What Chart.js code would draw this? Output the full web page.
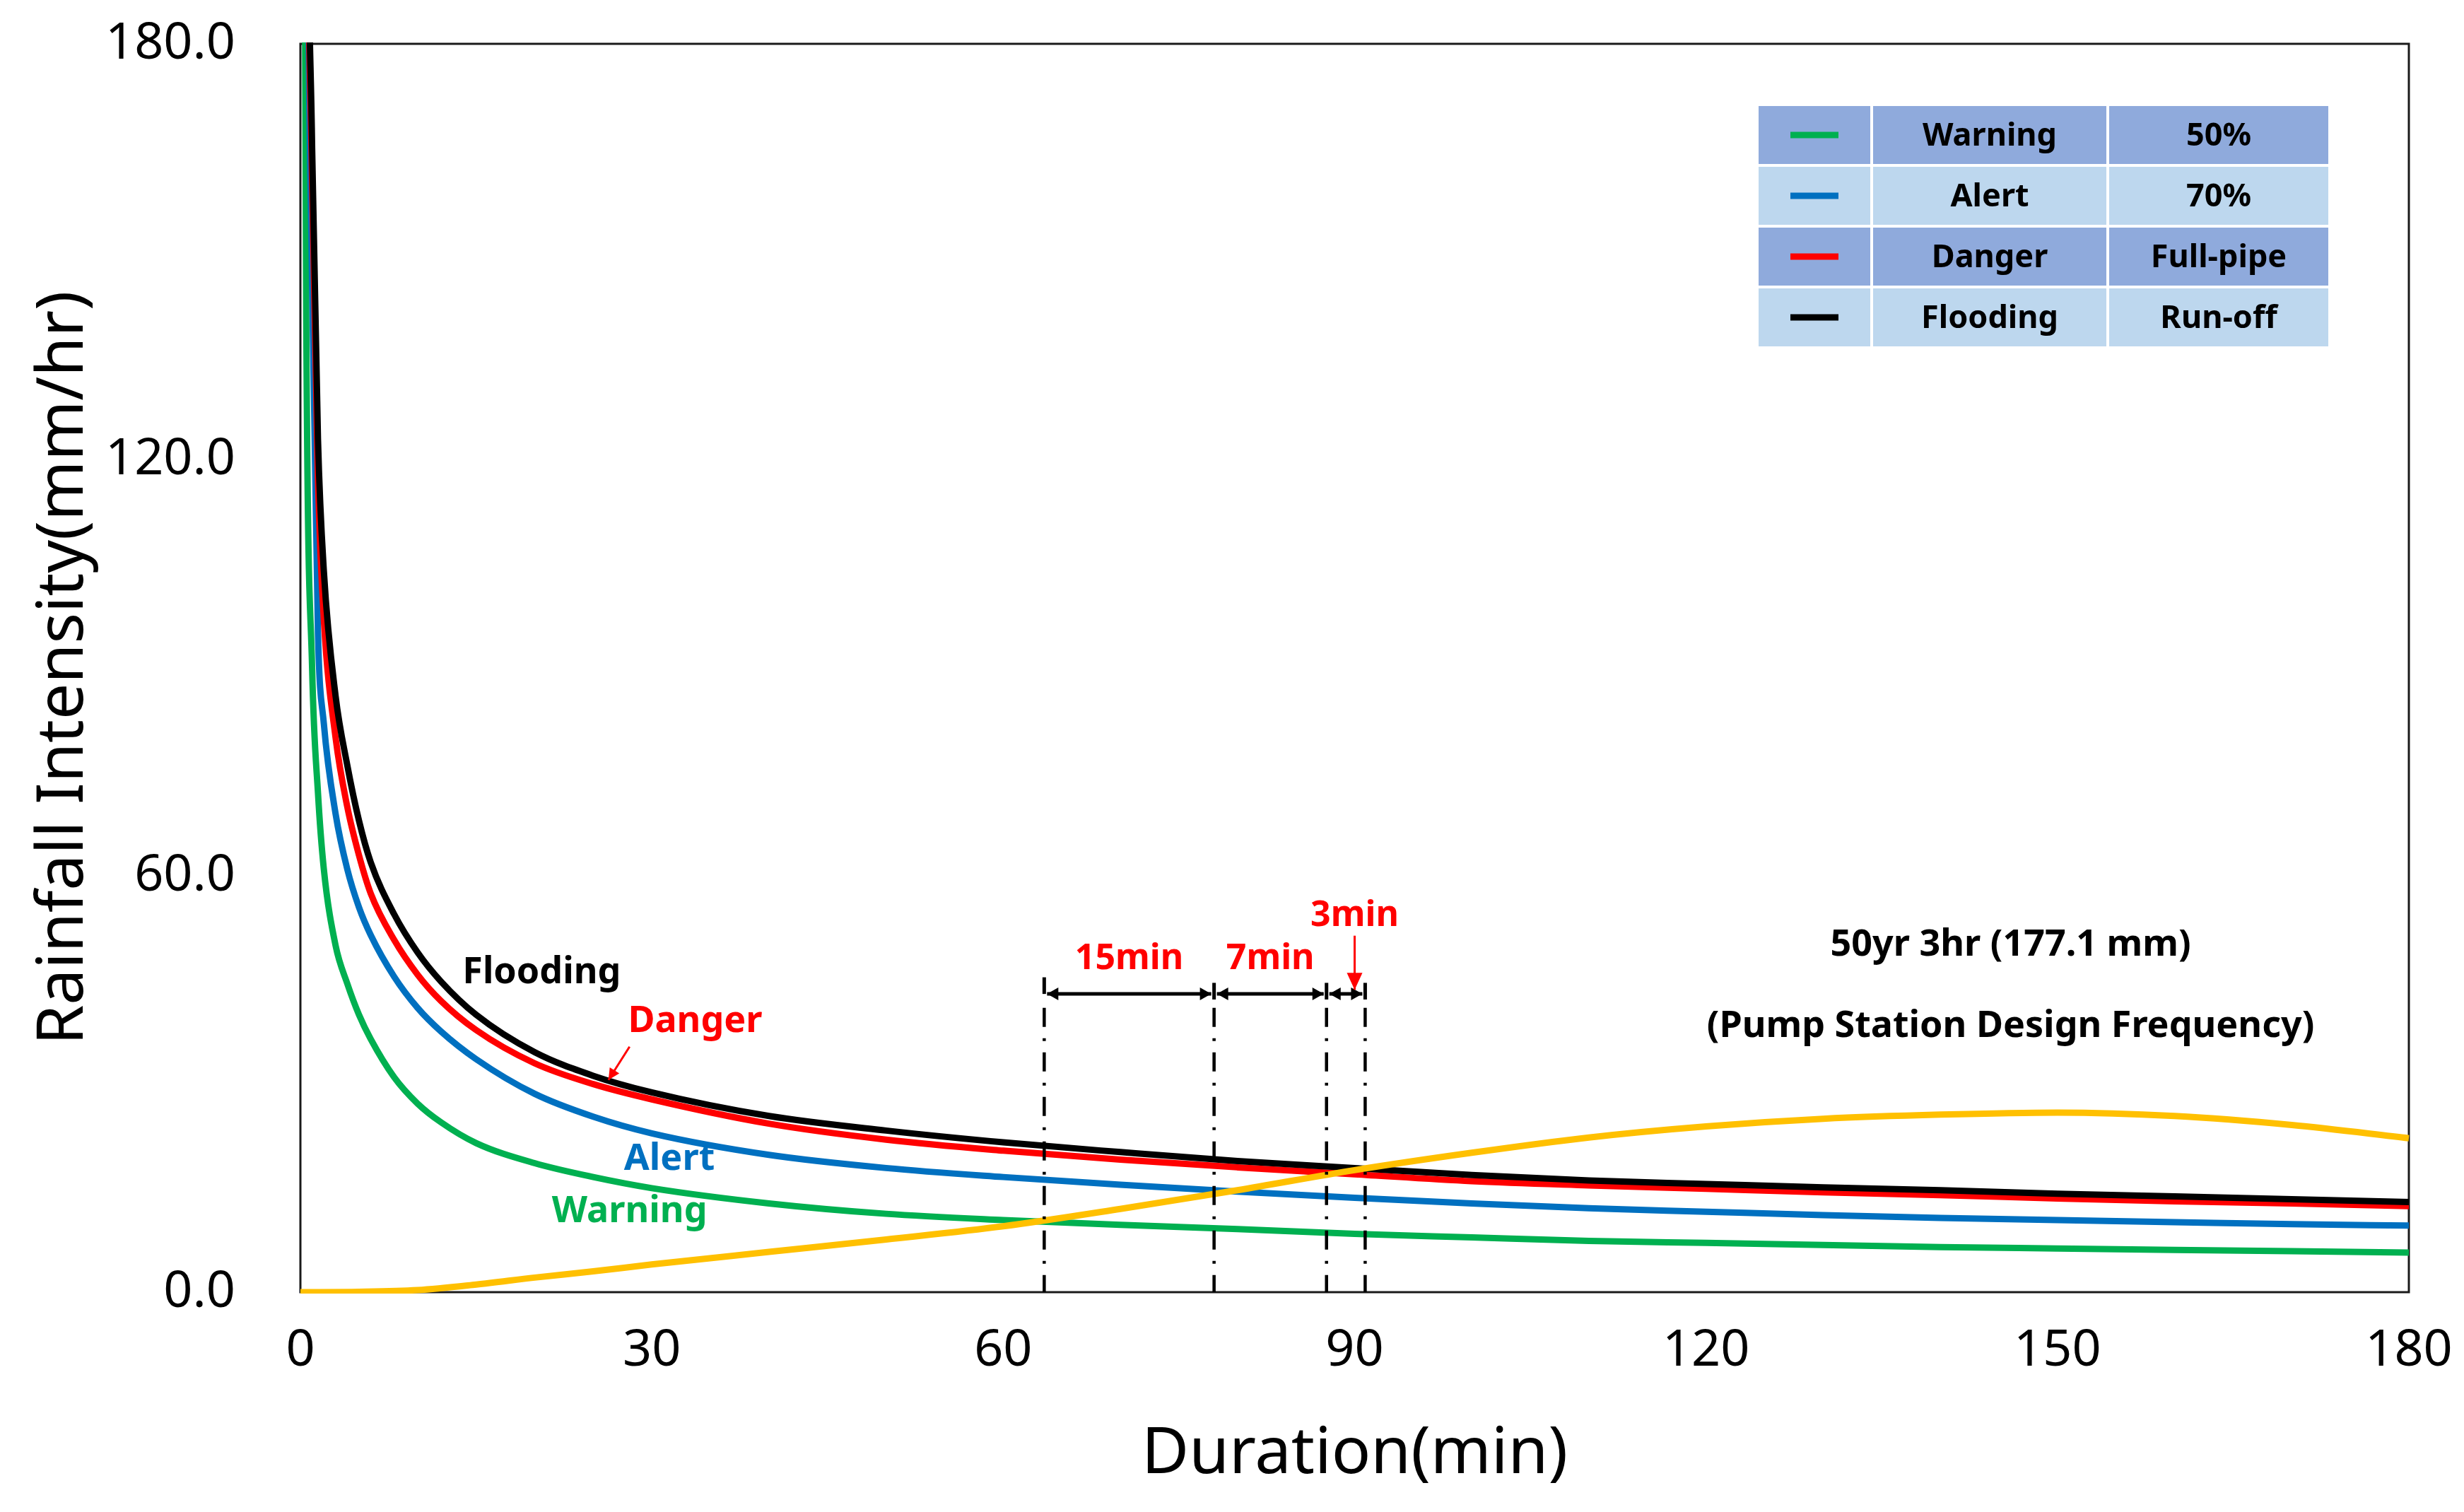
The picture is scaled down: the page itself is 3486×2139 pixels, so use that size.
<!DOCTYPE html>
<html>
<head>
<meta charset="utf-8">
<title>Rainfall intensity vs duration</title>
<script src="https://cdn.jsdelivr.net/npm/chart.js@4.4.1/dist/chart.umd.min.js"></script>
<style>
  html, body { margin: 0; padding: 0; background: #fff; }
  #wrap { width: 3486px; height: 2139px; }
</style>
</head>
<body>
<div id="wrap"><canvas id="idfChart" width="3486" height="2139"></canvas></div>
<script>
// durations (min) at which the threshold curves were read
const idfDurations = [0.25, 0.5, 1, 1.5, 2, 3, 4, 5, 6, 8, 10, 12, 15, 20, 25, 30, 40, 50, 60, 70, 80, 90, 100, 110, 120, 130, 140, 150, 160, 170, 180];

// rainfall intensity (mm/hr) per threshold
const flooding = [400, 240, 165, 123, 104, 86, 76, 68, 62, 54.5, 49, 44.8, 40, 34.6, 31.2, 28.8, 25.4, 23.3, 21.6, 20.2, 18.9, 17.9, 16.9, 16.1, 15.6, 15.1, 14.7, 14.2, 13.8, 13.4, 13.0];
const danger   = [390, 235, 160, 117, 97, 80, 70, 63, 57.5, 50.8, 45.8, 42.0, 37.8, 33.0, 30.0, 27.8, 24.3, 22, 20.4, 19.1, 18.0, 17.0, 16.0, 15.4, 14.9, 14.4, 14.0, 13.5, 13.1, 12.8, 12.4];
const alert    = [380, 230, 145, 95, 82, 69, 61, 55.5, 51.5, 45.5, 41, 37.6, 33.6, 28.6, 25.3, 22.9, 19.8, 17.9, 16.6, 15.5, 14.5, 13.6, 12.8, 12.1, 11.6, 11.1, 10.7, 10.4, 10.1, 9.8, 9.6];
const warning  = [250, 140, 90, 72, 61, 50, 44.5, 40, 36.5, 31, 27.2, 24.5, 21.5, 18.6, 16.6, 15, 12.8, 11.3, 10.4, 9.7, 9.1, 8.4, 7.9, 7.4, 7.1, 6.8, 6.5, 6.3, 6.1, 5.9, 5.7];

// 50yr 3hr design storm (177.1 mm)
const stormDurations = [0, 5, 10, 15, 20, 25, 30, 40, 50, 60, 70, 80, 90, 100, 110, 120, 130, 140, 150, 160, 170, 180];
const stormIntensity = [0, 0.05, 0.3, 1.1, 2.1, 3.0, 4.0, 5.8, 7.6, 9.5, 12.0, 14.7, 17.6, 20.1, 22.3, 23.9, 25.0, 25.6, 25.9, 25.4, 24.1, 22.2];

// crossing points of the storm with each threshold curve
const crossDurations = [63.5, 78.0, 87.6, 90.9];
const spanLabels = ['15min', '7min', '3min'];

const seriesNames = ['Warning', 'Alert', 'Danger', 'Flooding'];
const thresholdLabels = ['50%', '70%', 'Full-pipe', 'Run-off'];
const seriesColors = ['#00b050', '#0070c0', '#ff0000', '#000000'];
const stormColor = '#ffc000';

const xTicks = [0, 30, 60, 90, 120, 150, 180];
const yTicks = [0, 60, 120, 180];

const FONT = '"Noto Sans", "Open Sans", sans-serif';

function toPoints(xs, ys) {
  return xs.map((x, i) => ({ x: x, y: ys[i] }));
}

function arrowHead(ctx, x, y, angle, len, half) {
  const c = Math.cos(angle), s = Math.sin(angle);
  ctx.beginPath();
  ctx.moveTo(x, y);
  ctx.lineTo(x - len * c + half * s, y - len * s - half * c);
  ctx.lineTo(x - len * c - half * s, y - len * s + half * c);
  ctx.closePath();
  ctx.fill();
}

function arrow(ctx, x1, y1, x2, y2, both, len, half) {
  ctx.beginPath();
  ctx.moveTo(x1, y1);
  ctx.lineTo(x2, y2);
  ctx.stroke();
  const ang = Math.atan2(y2 - y1, x2 - x1);
  arrowHead(ctx, x2, y2, ang, len, half);
  if (both) arrowHead(ctx, x1, y1, ang + Math.PI, len, half);
}

const annotations = {
  id: 'idfAnnotations',
  beforeDatasetsDraw(chart) {
    const { ctx, chartArea: a } = chart;
    ctx.save();
    ctx.strokeStyle = '#1a1a1a';
    ctx.lineWidth = 3;
    ctx.strokeRect(a.left, a.top, a.right - a.left, a.bottom - a.top);
    ctx.restore();
  },
  afterDatasetsDraw(chart) {
    const { ctx } = chart;
    const px = v => chart.scales.x.getPixelForValue(v);
    const py = v => chart.scales.y.getPixelForValue(v);
    ctx.save();

    // dash-dot drop lines at the crossings
    ctx.strokeStyle = '#000';
    ctx.lineWidth = 4.5;
    ctx.setLineDash([27, 16, 4, 16]);
    crossDurations.forEach(d => {
      ctx.beginPath();
      ctx.moveTo(px(d), py(41));
      ctx.lineTo(px(d), py(0));
      ctx.stroke();
    });
    ctx.setLineDash([]);

    // span ticks and double arrows
    ctx.lineWidth = 5;
    ctx.fillStyle = '#000';
    crossDurations.forEach((d, i) => {
      ctx.beginPath();
      ctx.moveTo(px(d), py(i === 0 ? 45.4 : 44.6));
      ctx.lineTo(px(d), py(i === 0 ? 43.0 : 42.2));
      ctx.stroke();
    });
    for (let i = 0; i < crossDurations.length - 1; i++) {
      arrow(ctx, px(crossDurations[i]) + 4, py(43), px(crossDurations[i + 1]) - 4, py(43), true, 16, 9);
    }

    // span labels
    ctx.fillStyle = '#ff0000';
    ctx.font = 'bold 50px ' + FONT;
    ctx.textAlign = 'center';
    ctx.textBaseline = 'middle';
    const spanMid = [(crossDurations[0] + crossDurations[1]) / 2, (crossDurations[1] + crossDurations[2]) / 2];
    ctx.fillText(spanLabels[0], px(spanMid[0]), py(48));
    ctx.fillText(spanLabels[1], px(spanMid[1]), py(48));
    ctx.fillText(spanLabels[2], px(90.0), py(54.3));
    ctx.strokeStyle = '#ff0000';
    ctx.lineWidth = 3;
    arrow(ctx, px(90.0), py(51.4), px(90.0), py(43.6), false, 24, 11);

    // curve labels
    ctx.font = 'bold 52px ' + FONT;
    const labelPos = [[28.1, 11.6], [31.5, 19.1], [33.7, 39.0], [20.6, 46.1]];
    seriesNames.forEach((name, i) => {
      ctx.fillStyle = seriesColors[i];
      ctx.fillText(name, px(labelPos[i][0]), py(labelPos[i][1]));
    });
    ctx.strokeStyle = '#ff0000';
    ctx.fillStyle = '#ff0000';
    ctx.lineWidth = 3;
    arrow(ctx, px(28.1), py(35.4), px(26.3), py(30.6), false, 16, 8);

    // storm caption
    ctx.fillStyle = '#000';
    ctx.fillText('50yr 3hr (177.1 mm)', px(146), py(50.0));
    ctx.fillText('(Pump Station Design Frequency)', px(146), py(38.3));
    ctx.restore();
  },
  afterDraw(chart) {
    const { ctx, chartArea: a } = chart;
    const left = a.right - 922, top = a.top + 86;
    const colW = [162, 334, 314], rowH = 86, gap = 4;
    const fills = ['#8faadc', '#bdd7ee'];
    ctx.save();
    ctx.font = 'bold 45px ' + FONT;
    ctx.textAlign = 'center';
    ctx.textBaseline = 'middle';
    seriesNames.forEach((name, r) => {
      const y = top + r * rowH;
      let x = left;
      colW.forEach((w, c) => {
        ctx.fillStyle = fills[r % 2];
        ctx.fillRect(x + gap / 2, y + gap / 2, w - gap, rowH - gap);
        const cx = x + w / 2, cy = y + rowH / 2;
        if (c === 0) {
          ctx.fillStyle = seriesColors[r];
          ctx.fillRect(cx - 34, cy - 4.5, 68, 9);
        } else {
          ctx.fillStyle = '#000';
          ctx.fillText(c === 1 ? name : thresholdLabels[r], cx, cy + 2);
        }
        x += w;
      });
    });
    ctx.restore();
  }
};

const curveStyle = {
  borderWidth: 9,
  pointRadius: 0,
  fill: false,
  cubicInterpolationMode: 'monotone',
  clip: 2
};

new Chart(document.getElementById('idfChart'), {
  type: 'line',
  data: {
    datasets: [
      Object.assign({ label: 'Design storm', data: toPoints(stormDurations, stormIntensity), borderColor: stormColor }, curveStyle),
      Object.assign({ label: 'Flooding', data: toPoints(idfDurations, flooding), borderColor: seriesColors[3] }, curveStyle),
      Object.assign({ label: 'Danger', data: toPoints(idfDurations, danger), borderColor: seriesColors[2] }, curveStyle),
      Object.assign({ label: 'Alert', data: toPoints(idfDurations, alert), borderColor: seriesColors[1] }, curveStyle),
      Object.assign({ label: 'Warning', data: toPoints(idfDurations, warning), borderColor: seriesColors[0] }, curveStyle)
    ]
  },
  options: {
    responsive: false,
    devicePixelRatio: 1,
    animation: false,
    layout: { padding: { top: 62, right: 78, left: 0, bottom: 0 } },
    plugins: { legend: { display: false }, tooltip: { enabled: false } },
    scales: {
      x: {
        type: 'linear',
        min: 0,
        max: 180,
        afterFit(scale) {
          scale.height = 311;
          scale.paddingLeft = 0;
          scale.paddingRight = 0;
        },
        afterBuildTicks(scale) { scale.ticks = xTicks.map(v => ({ value: v })); },
        grid: { display: false, drawTicks: false },
        border: { display: false },
        ticks: { color: '#000', padding: 40, font: { family: FONT, size: 72 } },
        title: {
          display: true,
          text: 'Duration(min)',
          color: '#000',
          padding: { top: 0, bottom: 26 },
          font: { family: FONT, size: 92 }
        }
      },
      y: {
        min: 0,
        max: 180,
        afterFit(scale) {
          scale.width = 425;
          scale.paddingTop = 0;
          scale.paddingBottom = 0;
        },
        afterBuildTicks(scale) { scale.ticks = yTicks.map(v => ({ value: v })); },
        grid: { display: false, drawTicks: false },
        border: { display: false },
        ticks: {
          color: '#000',
          padding: 92,
          font: { family: FONT, size: 72 },
          callback: v => v.toFixed(1)
        },
        title: {
          display: true,
          text: 'Rainfall Intensity(mm/hr)',
          color: '#000',
          padding: { top: 36, bottom: 0 },
          font: { family: FONT, size: 91 }
        }
      }
    }
  },
  plugins: [annotations]
});
</script>
</body>
</html>
